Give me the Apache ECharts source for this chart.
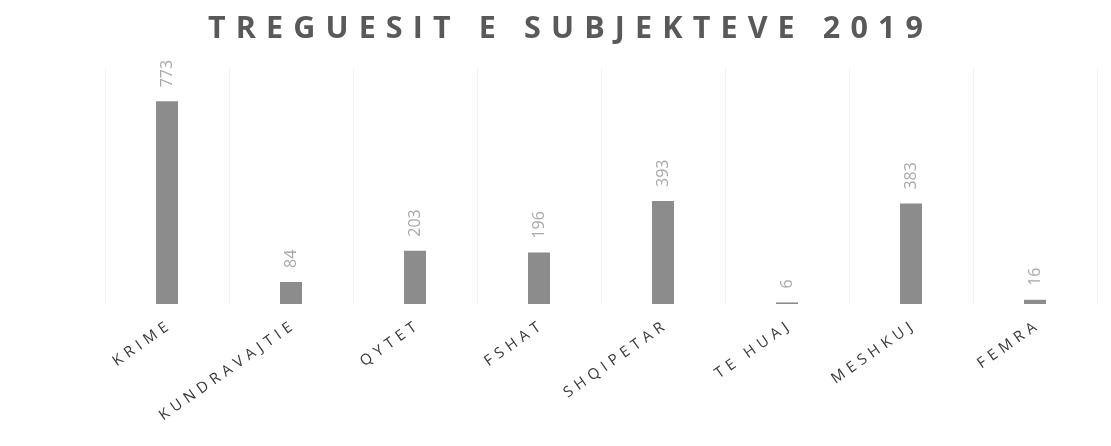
<!DOCTYPE html>
<html>
<head>
<meta charset="utf-8">
<style>
  html, body { margin: 0; padding: 0; background: #fff; }
  #chart { width: 1111px; height: 446px; }
</style>
<script src="https://cdn.jsdelivr.net/npm/echarts@6/dist/echarts.min.js"></script>
</head>
<body>
<div id="chart"></div>
<script>
// kategorite dhe vlerat
const categories = ["KRIME", "KUNDRAVAJTIE", "QYTET", "FSHAT", "SHQIPETAR", "TE HUAJ", "MESHKUJ", "FEMRA"];
const values = [773, 84, 203, 196, 393, 6, 383, 16];
const titleText = "TREGUESIT E SUBJEKTEVE 2019";

// hapesira e shkronjave (echarts nuk ka letterSpacing)
const spaced = (s, sp) => s.split("").join(sp);

const chart = echarts.init(document.getElementById("chart"));

const option = {
  animation: false,
  title: {
    text: spaced(titleText, "\u2009\u2009"),
    left: 203,
    top: 9,
    textStyle: {
      fontFamily: "Open Sans",
      fontSize: 30.5,
      fontWeight: "bold",
      color: "#595959"
    }
  },
  grid: {
    left: 105,
    right: 14,
    top: 68,
    bottom: 142
  },
  xAxis: {
    type: "category",
    data: categories,
    axisLine: { show: false },
    axisTick: { show: false },
    splitLine: { show: true, lineStyle: { color: "#f2f2f2", width: 1 } },
    axisLabel: {
      rotate: 35,
      margin: 22,
      interval: 0,
      fontFamily: "Open Sans",
      fontSize: 15,
      color: "#3a3a3a",
      formatter: (v) => spaced(v, "\u2009\u2009")
    }
  },
  yAxis: {
    type: "value",
    min: 0,
    max: 900,
    show: false
  },
  series: [
    {
      type: "bar",
      data: values,
      barWidth: 22,
      itemStyle: { color: "#8c8c8c" },
      label: {
        show: true,
        position: "top",
        rotate: 90,
        align: "left",
        verticalAlign: "middle",
        distance: 14,
        fontFamily: "Open Sans",
        fontSize: 16,
        color: "#a8a8a8"
      }
    }
  ]
};

chart.setOption(option);
</script>
</body>
</html>
